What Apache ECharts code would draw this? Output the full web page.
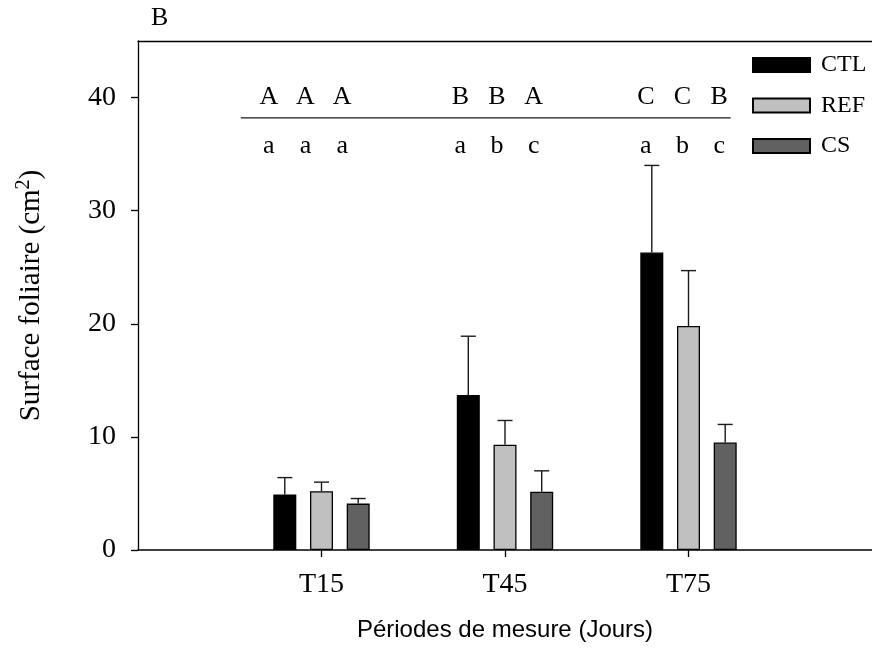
<!DOCTYPE html>
<html>
<head>
<meta charset="utf-8">
<script src="https://cdn.jsdelivr.net/npm/echarts@6/dist/echarts.min.js"></script>
<style>
  html, body { margin: 0; padding: 0; background: #fff; }
  #chart { width: 872px; height: 652px; }
</style>
</head>
<body>
<div id="chart"></div>
<script>
// Leaf area per measurement period (mean and upper error)
const periods = ['T15', 'T45', 'T75'];
const seriesNames = ['CTL', 'REF', 'CS'];
const ctlMean = [4.9, 13.7, 26.3];
const ctlErr  = [1.5, 5.2, 7.7];
const refMean = [5.2, 9.3, 19.8];
const refErr  = [0.8, 2.15, 4.9];
const csMean  = [4.1, 5.15, 9.5];
const csErr   = [0.45, 1.85, 1.6];
// Significance letters, one triple (CTL, REF, CS) per period
const upperLetters = [['A', 'A', 'A'], ['B', 'B', 'A'], ['C', 'C', 'B']];
const lowerLetters = [['a', 'a', 'a'], ['a', 'b', 'c'], ['a', 'b', 'c']];
const yTicks = [0, 10, 20, 30, 40];

const SERIF = '"Liberation Serif", "Times New Roman", serif';
const SANS = '"Liberation Sans", Arial, sans-serif';
const fills = ['#000000', '#c0c0c0', '#616161'];
const means = [ctlMean, refMean, csMean];
const errs = [ctlErr, refErr, csErr];
const BAR_OFFSET = 0.2;             // horizontal shift of each treatment within a period
const UPPER_LEVEL = 40.0;           // y-level of the upper letter row
const LOWER_LEVEL = 35.7;           // y-level of the lower letter row
const RULE_LEVEL = 38.2;            // separator between the two letter rows
const RULE_FROM = 0.56, RULE_TO = 3.23;
const LETTER_SHIFT = [-16, -8, -6]; // px, per period

const xPos = (i, s) => i + 1 + (s - 1) * BAR_OFFSET;

const chart = echarts.init(document.getElementById('chart'));

const barSeries = seriesNames.map((name, s) => ({
  name: name,
  type: 'bar',
  barWidth: 23,
  barGap: '-100%',
  itemStyle: { color: fills[s], borderColor: '#000', borderWidth: 1.3 },
  data: means[s].map((v, i) => [xPos(i, s), v]),
  z: 2
}));

const errData = [];
seriesNames.forEach((name, s) => {
  means[s].forEach((v, i) => errData.push([xPos(i, s), v, errs[s][i]]));
});

const letterData = [];
periods.forEach((p, i) => {
  seriesNames.forEach((n, s) => {
    letterData.push([xPos(i, s), UPPER_LEVEL, upperLetters[i][s], i]);
    letterData.push([xPos(i, s), LOWER_LEVEL, lowerLetters[i][s], i]);
  });
});

chart.setOption({
  animation: false,
  backgroundColor: '#fff',
  title: {
    text: 'B', left: 151, top: 5, padding: 0,
    textStyle: { fontFamily: SERIF, fontSize: 26, fontWeight: 'normal', color: '#000' }
  },
  legend: {
    orient: 'vertical', left: 752, top: 53, padding: 0,
    itemWidth: 57, itemHeight: 14, itemGap: 16.5, icon: 'rect',
    data: seriesNames,
    textStyle: { fontFamily: SERIF, fontSize: 24, color: '#000', padding: [0, 0, 0, 6] }
  },
  grid: { left: 138, top: 41, width: 734.5, height: 509, containLabel: false },
  xAxis: [{
    type: 'value', min: 0, max: 4, interval: 1,
    name: 'Périodes de mesure (Jours)', nameLocation: 'middle', nameGap: 68,
    nameTextStyle: { fontFamily: SANS, fontSize: 24, color: '#000' },
    axisLine: { show: true, lineStyle: { color: '#000', width: 1.6 } },
    axisTick: { show: true, inside: false, length: 7, customValues: [1, 2, 3], lineStyle: { color: '#000', width: 1.3 } },
    axisLabel: {
      customValues: [1, 2, 3], margin: 21,
      formatter: v => periods[Math.round(v) - 1] || '',
      fontFamily: SERIF, fontSize: 28, color: '#000'
    },
    splitLine: { show: false }
  }, {
    type: 'value', position: 'top', min: 0, max: 4,
    axisLine: { show: true, onZero: false, lineStyle: { color: '#000', width: 1.3 } },
    axisTick: { show: false }, axisLabel: { show: false }, splitLine: { show: false }
  }],
  yAxis: {
    type: 'value', min: 0, max: 45, interval: 10,
    name: '{t|Surface foliaire (cm}{s|2}{t|)}', nameLocation: 'middle', nameGap: 89,
    nameTextStyle: {
      color: '#000',
      rich: {
        t: { fontFamily: SERIF, fontSize: 29, color: '#000' },
        s: { fontFamily: SERIF, fontSize: 20, color: '#000', padding: [0, 0, 15, 0] }
      }
    },
    axisLine: { show: true, lineStyle: { color: '#000', width: 1.3 } },
    axisTick: { show: true, inside: false, length: 7, customValues: yTicks, lineStyle: { color: '#000', width: 1.3 } },
    axisLabel: { customValues: yTicks, margin: 22, fontFamily: SERIF, fontSize: 28, color: '#000' },
    splitLine: { show: false }
  },
  series: barSeries.concat([
    {
      name: 'errors',
      type: 'custom',
      z: 3,
      data: errData,
      renderItem: function (params, api) {
        const x = api.value(0), m = api.value(1), e = api.value(2);
        const p0 = api.coord([x, m]);
        const p1 = api.coord([x, m + e]);
        const style = { stroke: '#1a1a1a', lineWidth: 1.4 };
        return {
          type: 'group',
          children: [
            { type: 'line', shape: { x1: p0[0], y1: p0[1], x2: p1[0], y2: p1[1] }, style: style },
            { type: 'line', shape: { x1: p1[0] - 7.5, y1: p1[1], x2: p1[0] + 7.5, y2: p1[1] }, style: style }
          ]
        };
      }
    },
    {
      name: 'letters',
      type: 'custom',
      z: 4,
      data: letterData,
      renderItem: function (params, api) {
        const item = letterData[params.dataIndex];
        const p = api.coord([item[0], item[1]]);
        return {
          type: 'text',
          x: p[0] + LETTER_SHIFT[item[3]], y: p[1],
          style: {
            text: item[2],
            font: '26px ' + SERIF, fill: '#000',
            align: 'center', verticalAlign: 'middle'
          }
        };
      }
    },
    {
      name: 'rule',
      type: 'line',
      z: 4,
      symbol: 'none',
      lineStyle: { color: '#1a1a1a', width: 1.3 },
      data: [[RULE_FROM, RULE_LEVEL], [RULE_TO, RULE_LEVEL]]
    }
  ])
});
</script>
</body>
</html>
